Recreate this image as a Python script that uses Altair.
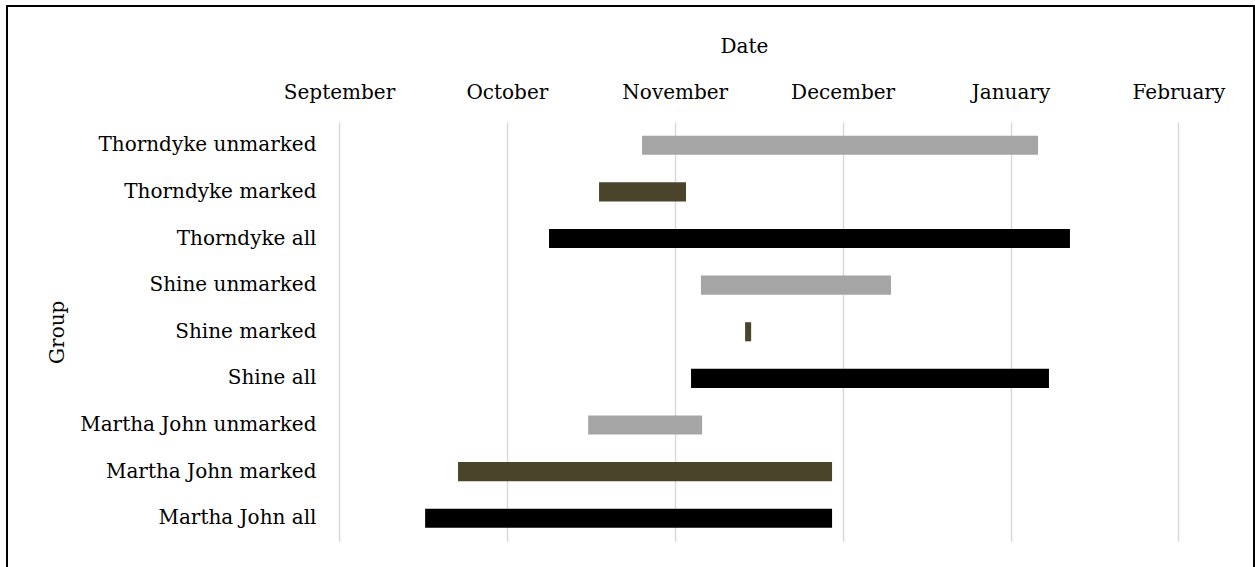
import altair as alt
import pandas as pd

# Month axis (Sep = 0 ... Feb = 5)
months = ["September", "October", "November", "December", "January", "February"]

groups = ["Thorndyke unmarked", "Thorndyke marked", "Thorndyke all",
          "Shine unmarked", "Shine marked", "Shine all",
          "Martha John unmarked", "Martha John marked", "Martha John all"]
kinds = ["unmarked", "marked", "all"] * 3
starts = [1.805, 1.549, 1.251, 2.156, 2.419, 2.097, 1.484, 0.709, 0.513]
ends = [4.164, 2.067, 4.354, 3.288, 2.455, 4.229, 2.163, 2.937, 2.937]

kind_order = ["unmarked", "marked", "all"]
kind_colors = ["#A5A5A5", "#4A452A", "#000000"]

df = pd.DataFrame({"Group": groups, "Kind": kinds, "Start": starts, "End": ends})

FONT = "DejaVu Serif"
W, H = 839.4, 419.5
PL, PT = 339, 122

label_expr = "[" + ",".join("'%s'" % m for m in months) + "][datum.value]"

bars = alt.Chart(df).mark_bar().encode(
    x=alt.X("Start:Q",
            scale=alt.Scale(domain=[0, len(months) - 1], nice=False, zero=False),
            axis=alt.Axis(orient="top", values=list(range(len(months))),
                          labelExpr=label_expr, title="Date",
                          domain=False, ticks=False, tickSize=0,
                          grid=True, gridColor="#D9D9D9", gridWidth=1.5,
                          labelPadding=20, labelFont=FONT, labelFontSize=20,
                          labelColor="#000000", labelFlush=False, labelOverlap=False,
                          labelLimit=400,
                          titleFont=FONT, titleFontSize=20, titleFontWeight="normal",
                          titleColor="#000000", titleX=405, titleY=-70,
                          titleAlign="center", titleBaseline="alphabetic")),
    x2="End:Q",
    y=alt.Y("Group:N", sort=groups,
            scale=alt.Scale(paddingInner=0.59, paddingOuter=0.295),
            axis=alt.Axis(title="Group", domain=False, ticks=False, tickSize=0,
                          grid=False, labelPadding=23, labelFont=FONT,
                          labelFontSize=20, labelColor="#000000", labelLimit=400,
                          titleFont=FONT, titleFontSize=20, titleFontWeight="normal",
                          titleColor="#000000", titleAngle=270, titleX=-282,
                          titleY=H / 2, titleAlign="center", titleBaseline="middle")),
    color=alt.Color("Kind:N", scale=alt.Scale(domain=kind_order, range=kind_colors),
                    legend=None),
)

frame = alt.Chart(alt.Data(values=[{}])).mark_rect(
    filled=False, stroke="#000000", strokeWidth=2
).encode(
    x=alt.value(7 - PL), x2=alt.value(1254 - PL),
    y=alt.value(6 - PT), y2=alt.value(580 - PT),
)

chart = alt.layer(bars, frame).properties(
    width=W, height=H,
    autosize=alt.AutoSizeParams(type="none"),
    padding={"left": PL, "top": PT, "right": 1255 - PL - W, "bottom": 567 - PT - H},
    background="#FFFFFF",
).configure_view(stroke=None)

chart.save("out.html", embed_options={"renderer": "svg", "actions": False})
